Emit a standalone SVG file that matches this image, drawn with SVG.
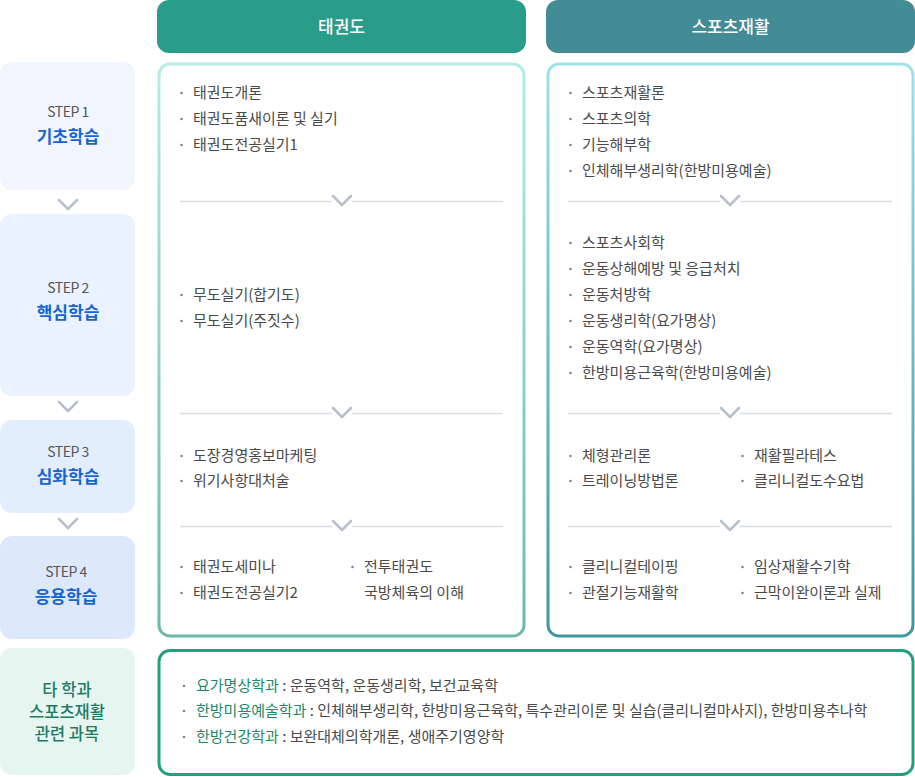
<svg xmlns="http://www.w3.org/2000/svg" width="915" height="777" viewBox="0 0 915 777">
<defs>
<linearGradient id="gL" x1="0" y1="0" x2="0" y2="1"><stop offset="0" stop-color="#b6ece5"/><stop offset="1" stop-color="#6bb8ab"/></linearGradient>
<linearGradient id="gR" x1="0" y1="0" x2="0" y2="1"><stop offset="0" stop-color="#9ee2ea"/><stop offset="1" stop-color="#3a989e"/></linearGradient>
<path id="chev" d="M-9,-5 L0,4 L9,-5" fill="none" stroke="#b9c0cd" stroke-width="2.6" stroke-linecap="round" stroke-linejoin="round"/>
</defs>
<style>
text{font-family:"Noto Sans CJK KR","Noto Sans",sans-serif;}
.it{font-size:15px;fill:#4a4a4a;}
.b{fill:#7d8496;}
.hd{font-size:17px;fill:#fff;text-anchor:middle;font-weight:500;}
.st{font-size:14px;fill:#555;text-anchor:middle;letter-spacing:-0.5px;}
.sn{font-size:17px;fill:#1565d0;text-anchor:middle;font-weight:700;}
.ot{font-size:16.5px;fill:#1e7a64;text-anchor:middle;font-weight:500;}
.dv{stroke:#dadde3;stroke-width:1.3;}
.gl{fill:#1a8a6a;}
</style>

<g id="header-taekwondo"><rect x="157" y="0" width="369" height="53" rx="12" fill="#2a9c8a"/><text class="hd" x="341.5" y="33">태권도</text></g>
<g id="header-sports"><rect x="546" y="0" width="369" height="53" rx="12" fill="#438b95"/><text class="hd" x="730.5" y="33">스포츠재활</text></g>

<g id="step1"><rect x="0" y="62" width="135" height="128" rx="12" fill="#f1f6fe"/><text class="st" x="68" y="117">STEP 1</text><text class="sn" x="68" y="143">기초학습</text></g>
<g id="step2"><rect x="0" y="214" width="135" height="182" rx="12" fill="#e9f2fe"/><text class="st" x="68" y="293">STEP 2</text><text class="sn" x="68" y="319">핵심학습</text></g>
<g id="step3"><rect x="0" y="420" width="135" height="93" rx="12" fill="#e3eefd"/><text class="st" x="68" y="457">STEP 3</text><text class="sn" x="68" y="483">심화학습</text></g>
<g id="step4"><rect x="0" y="536" width="135" height="103" rx="12" fill="#dde9fb"/><text class="st" x="66" y="577">STEP 4</text><text class="sn" x="66" y="603">응용학습</text></g>
<g id="other"><rect x="0" y="648" width="135" height="127" rx="12" fill="#e7f5f1"/><text class="ot" x="67" y="696">타 학과</text><text class="ot" x="67" y="718">스포츠재활</text><text class="ot" x="67" y="740">관련 과목</text></g>

<g id="connectors">
<use href="#chev" x="68" y="205"/>
<use href="#chev" x="68" y="407"/>
<use href="#chev" x="68" y="524"/>
</g>

<g id="taekwondo-box">
<rect x="159" y="64" width="365" height="572" rx="11" fill="#fff" stroke="url(#gL)" stroke-width="3"/>
<line class="dv" x1="180" y1="201.5" x2="332" y2="201.5"/><line class="dv" x1="352" y1="201.5" x2="503" y2="201.5"/><use href="#chev" x="342" y="201"/>
<line class="dv" x1="180" y1="413.5" x2="332" y2="413.5"/><line class="dv" x1="352" y1="413.5" x2="503" y2="413.5"/><use href="#chev" x="342" y="413"/>
<line class="dv" x1="180" y1="526.5" x2="332" y2="526.5"/><line class="dv" x1="352" y1="526.5" x2="503" y2="526.5"/><use href="#chev" x="342" y="526"/>
<g>
<circle class="b" cx="181.5" cy="93" r="1.3"/><text class="it" x="193" y="97.5">태권도개론</text>
<circle class="b" cx="181.5" cy="119" r="1.3"/><text class="it" x="193" y="123.5">태권도품새이론 및 실기</text>
<circle class="b" cx="181.5" cy="145" r="1.3"/><text class="it" x="193" y="149.5">태권도전공실기1</text>
<circle class="b" cx="181.5" cy="295" r="1.3"/><text class="it" x="193" y="299.5">무도실기(합기도)</text>
<circle class="b" cx="181.5" cy="321" r="1.3"/><text class="it" x="193" y="325.5">무도실기(주짓수)</text>
<circle class="b" cx="181.5" cy="456" r="1.3"/><text class="it" x="193" y="460.5">도장경영홍보마케팅</text>
<circle class="b" cx="181.5" cy="481" r="1.3"/><text class="it" x="193" y="485.5">위기사항대처술</text>
<circle class="b" cx="181.5" cy="567" r="1.3"/><text class="it" x="193" y="571.5">태권도세미나</text>
<circle class="b" cx="181.5" cy="593" r="1.3"/><text class="it" x="193" y="597.5">태권도전공실기2</text>
<circle class="b" cx="352.5" cy="567" r="1.3"/><text class="it" x="364" y="571.5">전투태권도</text>
<text class="it" x="364" y="597.5">국방체육의 이해</text>
</g>
</g>

<g id="sports-box">
<rect x="548" y="64" width="365" height="572" rx="11" fill="#fff" stroke="url(#gR)" stroke-width="3"/>
<line class="dv" x1="568" y1="201.5" x2="720" y2="201.5"/><line class="dv" x1="740" y1="201.5" x2="892" y2="201.5"/><use href="#chev" x="730" y="201"/>
<line class="dv" x1="568" y1="413.5" x2="720" y2="413.5"/><line class="dv" x1="740" y1="413.5" x2="892" y2="413.5"/><use href="#chev" x="730" y="413"/>
<line class="dv" x1="568" y1="526.5" x2="720" y2="526.5"/><line class="dv" x1="740" y1="526.5" x2="892" y2="526.5"/><use href="#chev" x="730" y="526"/>
<g>
<circle class="b" cx="570.5" cy="93" r="1.3"/><text class="it" x="582" y="97.5">스포츠재활론</text>
<circle class="b" cx="570.5" cy="119" r="1.3"/><text class="it" x="582" y="123.5">스포츠의학</text>
<circle class="b" cx="570.5" cy="145" r="1.3"/><text class="it" x="582" y="149.5">기능해부학</text>
<circle class="b" cx="570.5" cy="171" r="1.3"/><text class="it" x="582" y="175.5">인체해부생리학(한방미용예술)</text>
<circle class="b" cx="570.5" cy="243" r="1.3"/><text class="it" x="582" y="247.5">스포츠사회학</text>
<circle class="b" cx="570.5" cy="269" r="1.3"/><text class="it" x="582" y="273.5">운동상해예방 및 응급처치</text>
<circle class="b" cx="570.5" cy="295" r="1.3"/><text class="it" x="582" y="299.5">운동처방학</text>
<circle class="b" cx="570.5" cy="321" r="1.3"/><text class="it" x="582" y="325.5">운동생리학(요가명상)</text>
<circle class="b" cx="570.5" cy="347" r="1.3"/><text class="it" x="582" y="351.5">운동역학(요가명상)</text>
<circle class="b" cx="570.5" cy="373" r="1.3"/><text class="it" x="582" y="377.5">한방미용근육학(한방미용예술)</text>
<circle class="b" cx="570.5" cy="456" r="1.3"/><text class="it" x="582" y="460.5">체형관리론</text>
<circle class="b" cx="570.5" cy="481" r="1.3"/><text class="it" x="582" y="485.5">트레이닝방법론</text>
<circle class="b" cx="742.5" cy="456" r="1.3"/><text class="it" x="754" y="460.5">재활필라테스</text>
<circle class="b" cx="742.5" cy="481" r="1.3"/><text class="it" x="754" y="485.5">클리니컬도수요법</text>
<circle class="b" cx="570.5" cy="567" r="1.3"/><text class="it" x="582" y="571.5">클리니컬테이핑</text>
<circle class="b" cx="570.5" cy="593" r="1.3"/><text class="it" x="582" y="597.5">관절기능재활학</text>
<circle class="b" cx="742.5" cy="567" r="1.3"/><text class="it" x="754" y="571.5">임상재활수기학</text>
<circle class="b" cx="742.5" cy="593" r="1.3"/><text class="it" x="754" y="597.5">근막이완이론과 실제</text>
</g>
</g>

<g id="other-box">
<rect x="159" y="650.5" width="754" height="124" rx="11" fill="#fff" stroke="#20a07f" stroke-width="3"/>
<circle class="b" cx="184" cy="686" r="1.3"/><text class="it" x="196" y="690.5"><tspan class="gl">요가명상학과</tspan> : 운동역학, 운동생리학, 보건교육학</text>
<circle class="b" cx="184" cy="711" r="1.3"/><text class="it" x="196" y="715.5"><tspan class="gl">한방미용예술학과</tspan> : 인체해부생리학, 한방미용근육학, 특수관리이론 및 실습(클리니컬마사지), 한방미용추나학</text>
<circle class="b" cx="184" cy="737" r="1.3"/><text class="it" x="196" y="741.5"><tspan class="gl">한방건강학과</tspan> : 보완대체의학개론, 생애주기영양학</text>
</g>
</svg>
